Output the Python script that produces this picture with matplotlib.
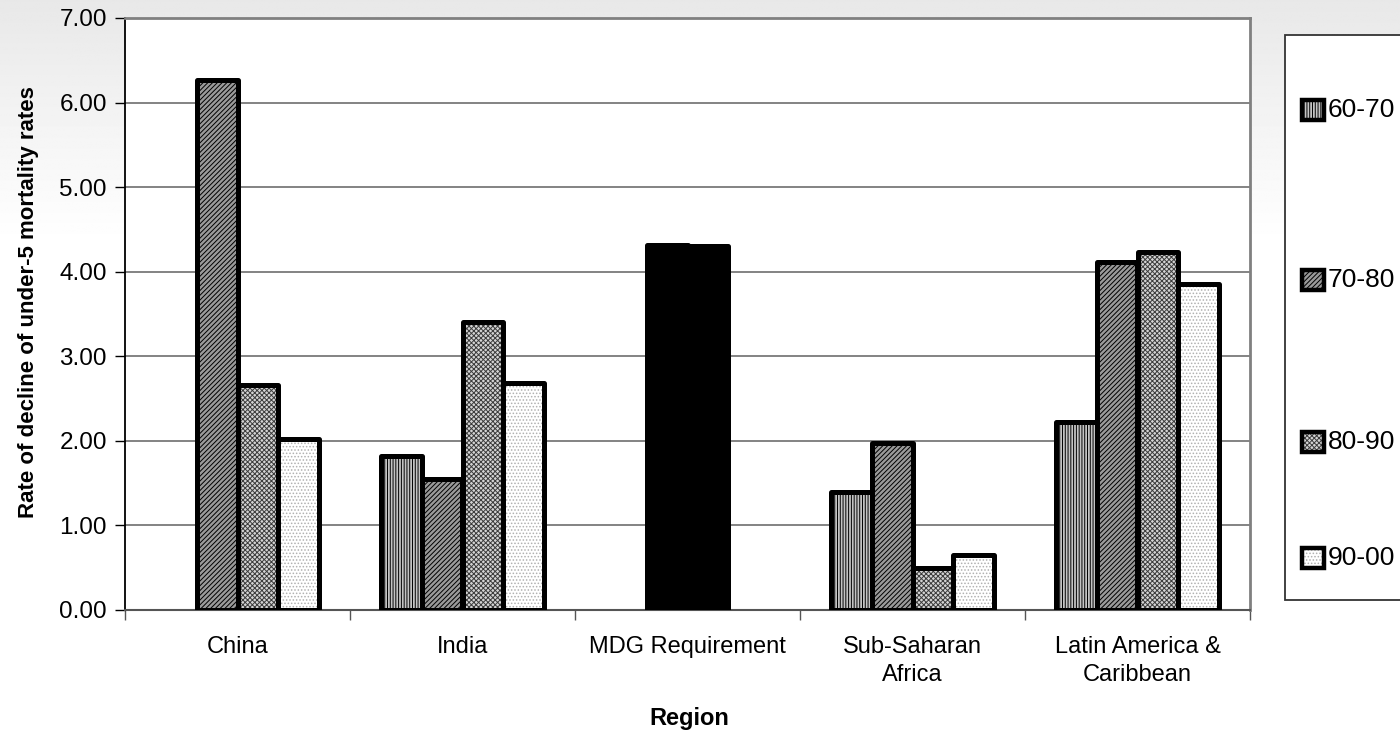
import numpy as np
import matplotlib
matplotlib.use("Agg")
import matplotlib.pyplot as plt
from matplotlib.patches import Rectangle

plt.rcParams['font.family'] = ['Liberation Sans', 'DejaVu Sans']
plt.rcParams['hatch.linewidth'] = 0.7

# decline rates by region and decade (nan = no bar)
regions = ['China', 'India', 'MDG Requirement', 'Sub-Saharan\nAfrica', 'Latin America &\nCaribbean']
decades = ['60-70', '70-80', '80-90', '90-00']
r_60_70 = [np.nan, 1.82, np.nan, 1.40, 2.22]
r_70_80 = [6.27, 1.55, 4.31, 1.97, 4.11]
r_80_90 = [2.66, 3.41, 4.30, 0.50, 4.23]
r_90_00 = [2.02, 2.69, np.nan, 0.65, 3.86]
series = [r_60_70, r_70_80, r_80_90, r_90_00]

# fill / hatch look for each decade
face = ['#c4c4c4', '#9a9a9a', '#d4d4d4', '#ffffff']
hatches = ['||||||', '///////', 'xxxxxxx', '.....']
hatch_col = ['#000000', '#000000', '#3c3c3c', '#b0b0b0']
solid_region = 'MDG Requirement'

fig = plt.figure(figsize=(14, 7.32), dpi=100)

# faded grey backdrop
bg = fig.add_axes([0, 0, 1, 1], zorder=-10)
grad = np.linspace(0.91, 1.0, 200)
grad = np.clip(np.concatenate([grad, np.ones(400)]), 0, 1)
bg.imshow(np.tile(grad[:, None], (1, 10)), cmap='gray', vmin=0, vmax=1,
          aspect='auto', extent=[0, 1, 0, 1])
bg.axis('off')

ax = fig.add_axes([125 / 1400, 1 - 610 / 732, 1125 / 1400, 592 / 732])
ax.set_facecolor('white')

x = np.arange(len(regions))
w = 1 / 5.5
for i, vals in enumerate(series):
    vals = np.array(vals, dtype=float)
    for j in x:
        if np.isnan(vals[j]):
            continue
        pos = j + (i - 1.5) * w
        if regions[j] == solid_region:
            ax.bar(pos, vals[j], w, color='black', linewidth=0, zorder=3)
        else:
            ax.bar(pos, vals[j], w, color=face[i], hatch=hatches[i],
                   edgecolor=hatch_col[i], linewidth=0, zorder=3)
        ax.bar(pos, vals[j], w, fill=False, edgecolor='black', linewidth=3.6,
               joinstyle='round', zorder=4)

ax.set_xlim(-0.5, len(regions) - 0.5)
ax.set_ylim(0, 7)
ax.set_yticks(np.arange(0, 8, 1))
ax.set_yticklabels(['%.2f' % v for v in np.arange(0, 8, 1)], fontsize=17.5)
ax.yaxis.grid(True, color='#6e6e6e', linewidth=1.2)
ax.set_axisbelow(True)

ax.set_xticks(x)
ax.set_xticklabels(regions, fontsize=17, linespacing=1.35)
ax.tick_params(axis='x', length=0, pad=19)
ax.set_xticks(np.arange(-0.5, len(regions), 1), minor=True)
ax.tick_params(axis='x', which='minor', length=7, width=1, color='#555555')
ax.tick_params(axis='y', length=7, width=1, direction='out', pad=6)

for s in ['top', 'right']:
    ax.spines[s].set_color('#808080')
    ax.spines[s].set_linewidth(2)
ax.spines['left'].set_color('black')
ax.spines['left'].set_linewidth(1.3)
ax.spines['bottom'].set_color('#555555')
ax.spines['bottom'].set_linewidth(1.5)

ax.set_ylabel('Rate of decline of under-5 mortality rates', fontsize=16,
              fontweight='bold')
ax.yaxis.set_label_coords(-0.076, 0.52)
fig.text(689 / 1400, 1 - 718 / 732, 'Region', ha='center', va='center',
         fontsize=17, fontweight='bold')

# legend box drawn by hand, runs off the right edge
W, H = 1400, 732
box = Rectangle((1285 / W, 1 - 600 / H), 200 / W, 565 / H, transform=fig.transFigure,
                facecolor='white', edgecolor='#333333', linewidth=1.3, zorder=5)
fig.add_artist(box)
leg_y = [110, 280, 442, 558]
for i, lab in enumerate(decades):
    yc = 1 - leg_y[i] / H
    sq = Rectangle((1302 / W, yc - 10 / H), 22 / W, 20 / H, transform=fig.transFigure,
                   facecolor=face[i], hatch=hatches[i], edgecolor=hatch_col[i],
                   linewidth=0, zorder=6)
    fig.add_artist(sq)
    fig.add_artist(Rectangle((1302 / W, yc - 10 / H), 22 / W, 20 / H,
                             transform=fig.transFigure, fill=False,
                             edgecolor='black', linewidth=3.2, zorder=7))
    fig.text(1328 / W, yc, lab, ha='left', va='center', fontsize=19, zorder=8)

fig.savefig('out.png', dpi=100)
